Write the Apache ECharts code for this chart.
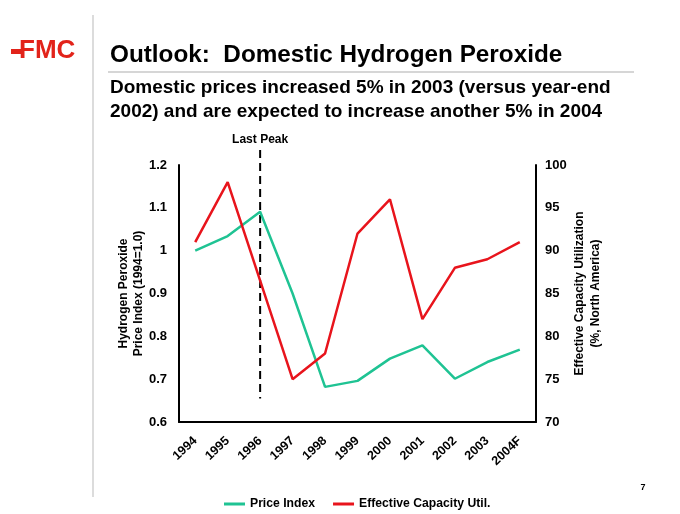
<!DOCTYPE html>
<html>
<head>
<meta charset="utf-8">
<script src="https://cdn.jsdelivr.net/npm/echarts@6/dist/echarts.min.js"></script>
<style>
html,body{margin:0;padding:0;background:#fff;}
#c{width:680px;height:514px;}
</style>
</head>
<body>
<div id="c"></div>
<script>
var categories = ['1994','1995','1996','1997','1998','1999','2000','2001','2002','2003','2004F'];
var priceIndex = [1.0, 1.034, 1.091, 0.9, 0.682, 0.696, 0.748, 0.779, 0.701, 0.740, 0.769];
var capacityUtil = [91, 98, 86.5, 75, 78, 92, 96, 82, 88, 89, 91];
var leftTicks = [0.6, 0.7, 0.8, 0.9, 1.0, 1.1, 1.2];
var rightTicks = [70, 75, 80, 85, 90, 95, 100];
var peakCategory = '1996';

var FONT = 'Liberation Sans, Arial, sans-serif';
var chart = echarts.init(document.getElementById('c'), null, {renderer:'canvas'});
var option = {
  backgroundColor: '#ffffff',
  animation: false,
  textStyle: {fontFamily: FONT},
  grid: {left: 179, right: 144, top: 165, bottom: 92, containLabel: false},
  legend: {
    left: 219, top: 493,
    itemWidth: 21, itemHeight: 3, itemGap: 18,
    icon: 'rect',
    textStyle: {fontFamily: FONT, fontWeight: 'bold', fontSize: 12.2, color: '#000'},
    data: ['Price Index', 'Effective Capacity Util.']
  },
  xAxis: {
    type: 'category',
    data: categories,
    boundaryGap: true,
    axisLine: {lineStyle: {color: '#000', width: 2}},
    axisTick: {show: false},
    axisLabel: {rotate: 43, interval: 0, margin: 17, fontFamily: FONT, fontWeight: 'bold', fontSize: 12.5, color: '#000'}
  },
  yAxis: [{
    type: 'value', min: 0.6, max: 1.2, interval: 0.1,
    position: 'left',
    name: 'Hydrogen Peroxide\nPrice Index (1994=1.0)',
    nameLocation: 'middle', nameRotate: 90, nameGap: 33, nameMoveOverlap: false,
    nameTextStyle: {fontFamily: FONT, fontWeight: 'bold', fontSize: 12, color: '#000', lineHeight: 15},
    axisLine: {show: true, lineStyle: {color: '#000', width: 2}},
    axisTick: {show: false},
    splitLine: {show: false},
    axisLabel: {margin: 12, fontFamily: FONT, fontWeight: 'bold', fontSize: 13, color: '#000',
      formatter: function(v){ var r = Math.round(v*10)/10; return r === 1 ? '1' : r.toFixed(1); }}
  }, {
    type: 'value', min: 70, max: 100, interval: 5,
    position: 'right',
    name: 'Effective Capacity Utilization\n(%, North America)',
    nameLocation: 'middle', nameRotate: 90, nameGap: 36, nameMoveOverlap: false,
    nameTextStyle: {fontFamily: FONT, fontWeight: 'bold', fontSize: 12, color: '#000', lineHeight: 16},
    axisLine: {show: true, lineStyle: {color: '#000', width: 2}},
    axisTick: {show: false},
    splitLine: {show: false},
    axisLabel: {margin: 9, fontFamily: FONT, fontWeight: 'bold', fontSize: 13, color: '#000'}
  }],
  series: [{
    name: 'Price Index', type: 'line', yAxisIndex: 0,
    data: priceIndex, symbol: 'none',
    lineStyle: {color: '#1fc393', width: 2.5}, itemStyle: {color: '#1fc393'}
  }, {
    name: 'Effective Capacity Util.', type: 'line', yAxisIndex: 1,
    data: capacityUtil, symbol: 'none',
    lineStyle: {color: '#e8141c', width: 2.5}, itemStyle: {color: '#e8141c'}
  }]
};
chart.setOption(option);

var px = chart.convertToPixel({xAxisIndex: 0}, peakCategory);
var yTop = chart.convertToPixel({yAxisIndex: 0}, 1.235);
var yBot = chart.convertToPixel({yAxisIndex: 0}, 0.655);

chart.setOption({
  graphic: [
    {type: 'line', shape: {x1: 93, y1: 15, x2: 93, y2: 497}, style: {stroke: '#dcdcdc', lineWidth: 2}},
    {type: 'line', shape: {x1: 108, y1: 72, x2: 634, y2: 72}, style: {stroke: '#c8c8c8', lineWidth: 1.5}},
    {type: 'rect', shape: {x: 11, y: 49, width: 10, height: 5}, style: {fill: '#e2231a'}},
    {type: 'text', left: 19, top: 38, style: {text: 'FMC', fontFamily: FONT, fontWeight: 'bold', fontSize: 26, fill: '#e2231a'}},
    {type: 'text', left: 110, top: 43, style: {text: 'Outlook:  Domestic Hydrogen Peroxide', fontFamily: FONT, fontWeight: 'bold', fontSize: 24.3, fill: '#000'}},
    {type: 'text', left: 110, top: 76, style: {text: 'Domestic prices increased 5% in 2003 (versus year-end\n2002) and are expected to increase another 5% in 2004', fontFamily: FONT, fontWeight: 'bold', fontSize: 19, lineHeight: 24, fill: '#000'}},
    {type: 'line', shape: {x1: px, y1: yTop, x2: px, y2: yBot}, style: {stroke: '#000', lineWidth: 2, lineDash: [8, 5]}},
    {type: 'text', x: px, y: yTop - 4, style: {text: 'Last Peak', fontFamily: FONT, fontWeight: 'bold', fontSize: 12, fill: '#000', align: 'center', verticalAlign: 'bottom'}},
    {type: 'text', x: 643, y: 488, style: {text: '7', fontFamily: FONT, fontWeight: 'bold', fontSize: 9, fill: '#000', align: 'center', verticalAlign: 'middle'}}
  ]
});
</script>
</body>
</html>
